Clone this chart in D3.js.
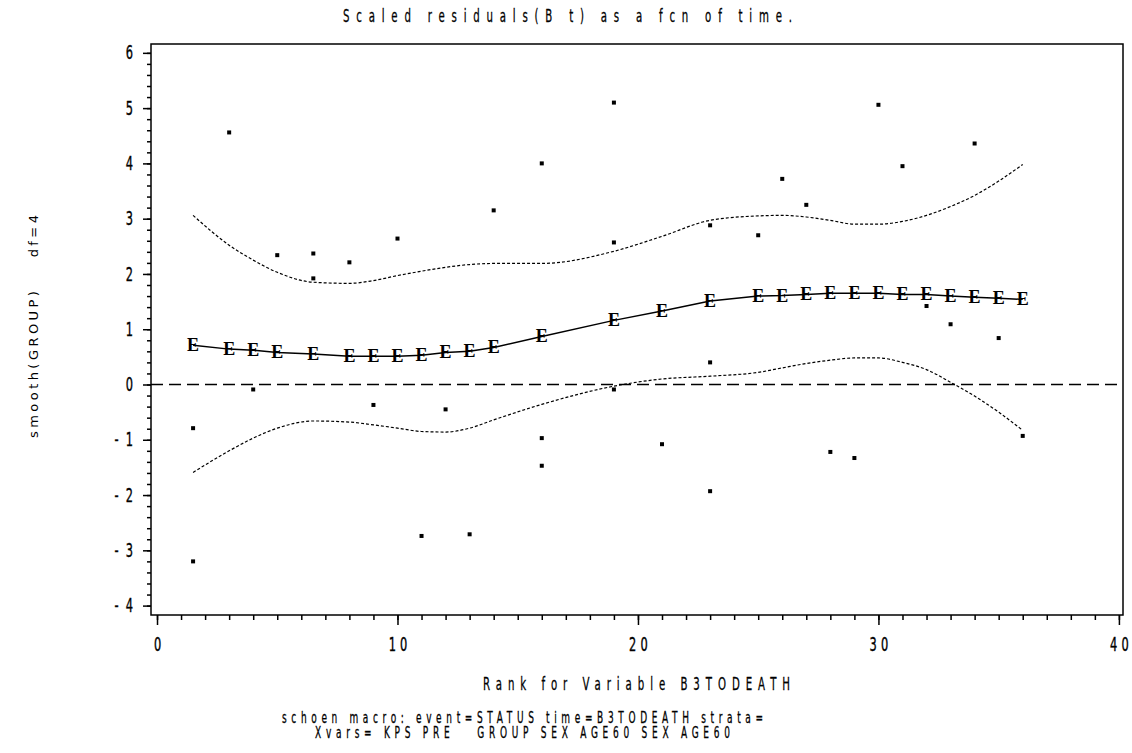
<!DOCTYPE html>
<html>
<head>
<meta charset="utf-8">
<script src="https://cdn.jsdelivr.net/npm/d3@7"></script>
<style>
  body { margin: 0; background: #fff; }
  svg { display: block; }
  .narrow { font-family: "DejaVu Sans", "Liberation Sans", sans-serif; }
</style>
</head>
<body>
<svg width="1132" height="753"></svg>
<script>
// residual points
let pointRank = [1.5, 1.5, 3, 4, 5, 6.5, 6.5, 8, 9, 10, 11, 12, 13, 14, 16, 16, 16, 19, 19, 19, 21, 23, 23, 23, 25, 26, 27, 28, 29, 30, 31, 32, 33, 34, 35, 36];
let pointResid = [-0.79, -3.2, 4.56, -0.09, 2.34, 2.37, 1.92, 2.21, -0.37, 2.64, -2.74, -0.45, -2.71, 3.15, 4.0, -0.97, -1.47, 5.1, 2.57, -0.09, -1.08, 2.88, 0.4, -1.93, 2.7, 3.72, 3.25, -1.22, -1.33, 5.06, 3.95, 1.42, 1.09, 4.36, 0.84, -0.93];

// smooth fit and its band
let smoothRank = [1.5, 3, 4, 5, 6.5, 8, 9, 10, 11, 12, 13, 14, 16, 19, 21, 23, 25, 26, 27, 28, 29, 30, 31, 32, 33, 34, 35, 36];
let smoothFit = [0.71, 0.64, 0.62, 0.58, 0.55, 0.51, 0.51, 0.51, 0.53, 0.58, 0.60, 0.67, 0.87, 1.16, 1.33, 1.51, 1.60, 1.61, 1.63, 1.65, 1.65, 1.65, 1.63, 1.63, 1.60, 1.58, 1.56, 1.54];
let upperBand = [3.06, 2.52, 2.25, 2.03, 1.85, 1.83, 1.88, 1.97, 2.05, 2.12, 2.17, 2.19, 2.19, 2.41, 2.68, 2.97, 3.05, 3.06, 3.03, 2.97, 2.9, 2.9, 2.95, 3.06, 3.22, 3.42, 3.68, 3.98];
let lowerBand = [-1.59, -1.2, -0.97, -0.79, -0.66, -0.68, -0.73, -0.79, -0.85, -0.86, -0.79, -0.64, -0.36, -0.03, 0.1, 0.15, 0.22, 0.3, 0.38, 0.44, 0.48, 0.48, 0.4, 0.27, 0.04, -0.21, -0.5, -0.83];

let xTicks = [0, 10, 20, 30, 40];
let yTicks = [-4, -3, -2, -1, 0, 1, 2, 3, 4, 5, 6];

let titleText = "Scaled residuals(B t) as a fcn of time.";
let xTitle = "Rank for Variable B3TODEATH";
let yTitle = "smooth(GROUP)    df=4";
let footer1 = "schoen macro: event=STATUS time=B3TODEATH strata=";
let footer2 = "Xvars= KPS PRE   GROUP SEX AGE60 SEX AGE60";

let svg = d3.select("svg");
let plotLeft = 151, plotRight = 1123, plotTop = 44, plotBottom = 615;
let squeeze = 0.6;   // SAS style narrow glyphs

let xScale = d3.scaleLinear().domain([-0.25, 40.17]).range([plotLeft, plotRight]);
let yScale = d3.scaleLinear().domain([-4.17, 6.16]).range([plotBottom, plotTop]);

// frame
svg.append("rect")
   .attr("x", plotLeft).attr("y", plotTop)
   .attr("width", plotRight - plotLeft).attr("height", plotBottom - plotTop)
   .attr("fill", "none").attr("stroke", "#000").attr("stroke-width", 1.5);

// axes
const styleAxis = (g) => {
  g.select(".domain").remove();
  g.selectAll("line").attr("stroke", "#000").attr("stroke-width", 1.5);
  g.selectAll("text").attr("class", "narrow").attr("font-size", 19)
   .attr("fill", "#000").attr("stroke", "#000").attr("stroke-width", 0.4);
}

svg.append("g")
   .attr("transform", `translate(0, ${plotBottom})`)
   .call(d3.axisBottom(xScale).tickValues(d3.range(0, 41, 1)).tickSize(5).tickFormat(""))
   .call(styleAxis);

svg.append("g")
   .attr("transform", `translate(0, ${plotBottom})`)
   .call(d3.axisBottom(xScale).tickValues(xTicks).tickSize(10).tickPadding(13))
   .call(styleAxis)
   .call(g => g.selectAll("text")
               .attr("letter-spacing", 7).attr("dx", 3.5)
               .attr("transform", `scale(${squeeze},1)`));

svg.append("g")
   .attr("transform", `translate(${plotLeft}, 0)`)
   .call(d3.axisLeft(yScale).tickValues(d3.range(-40, 61, 2).map(d => d / 10)).tickSize(4).tickFormat(""))
   .call(styleAxis);

svg.append("g")
   .attr("transform", `translate(${plotLeft}, 0)`)
   .call(d3.axisLeft(yScale).tickValues(yTicks).tickSize(8).tickPadding(10)
           .tickFormat(d => d < 0 ? "-  " + (-d) : d))
   .call(styleAxis)
   .call(g => g.selectAll("text")
               .attr("xml:space", "preserve")
               .attr("x", -18 / squeeze)
               .attr("transform", `scale(${squeeze},1)`));

// zero reference
svg.append("line")
   .attr("x1", plotLeft).attr("x2", plotRight)
   .attr("y1", yScale(0)).attr("y2", yScale(0))
   .attr("stroke", "#000").attr("stroke-width", 1.5)
   .attr("stroke-dasharray", "12,6");

// confidence band
const band = (vals) => d3.line()
  .x((d, i) => xScale(smoothRank[i]))
  .y(d => yScale(d))
  .curve(d3.curveMonotoneX)(vals);

[upperBand, lowerBand].forEach(vals => {
  svg.append("path")
     .attr("d", band(vals))
     .attr("fill", "none").attr("stroke", "#000").attr("stroke-width", 1.2)
     .attr("stroke-dasharray", "3,2");
});

// smooth line
svg.append("path")
   .attr("d", d3.line().x((d, i) => xScale(smoothRank[i])).y(d => yScale(d))(smoothFit))
   .attr("fill", "none").attr("stroke", "#000").attr("stroke-width", 1.5);

svg.selectAll(".fit")
   .data(smoothFit)
   .enter()
   .append("text")
   .attr("class", "fit")
   .attr("x", (d, i) => xScale(smoothRank[i]))
   .attr("y", d => yScale(d) + 6)
   .attr("text-anchor", "middle")
   .attr("font-family", "'Liberation Serif', 'DejaVu Serif', serif")
   .attr("font-weight", "bold")
   .attr("font-size", 18)
   .attr("fill", "#000")
   .text("E");

// residual points
svg.selectAll(".pt")
   .data(pointResid)
   .enter()
   .append("rect")
   .attr("class", "pt")
   .attr("x", (d, i) => xScale(pointRank[i]) - 2)
   .attr("y", d => yScale(d) - 2)
   .attr("width", 4).attr("height", 4)
   .attr("fill", "#000");

// texts, squeezed and spread to the reference width
const addText = (txt, x, y, len, size) => {
  svg.append("text")
     .attr("class", "narrow")
     .attr("transform", `translate(${x}, ${y}) scale(${squeeze},1)`)
     .attr("font-size", size)
     .attr("textLength", len / squeeze)
     .attr("lengthAdjust", "spacing")
     .attr("xml:space", "preserve")
     .attr("fill", "#000")
     .attr("stroke", "#000").attr("stroke-width", 0.3)
     .text(txt);
}
addText(titleText, 343, 22, 449, 17);
addText(xTitle, 483, 690, 307, 17);
addText(footer1, 282, 723, 481, 15);
addText(footer2, 315, 738, 415, 15);

svg.append("text")
   .attr("transform", "translate(38, 438) rotate(-90)")
   .attr("font-family", "'DejaVu Sans', sans-serif")
   .attr("font-size", 13)
   .attr("textLength", 223)
   .attr("lengthAdjust", "spacing")
   .attr("xml:space", "preserve")
   .attr("fill", "#000")
   .text(yTitle);
</script>
</body>
</html>
